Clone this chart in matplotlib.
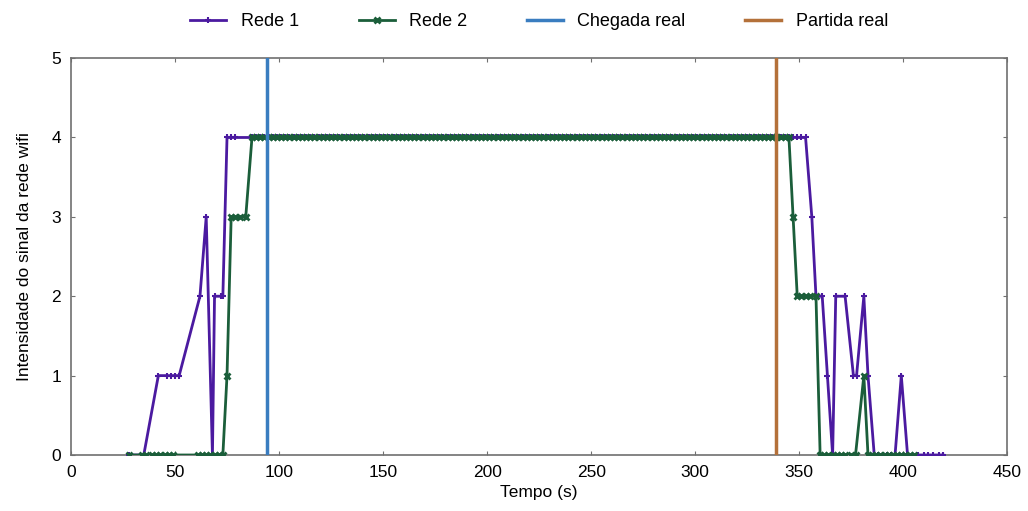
import matplotlib
matplotlib.use("Agg")
import matplotlib.pyplot as plt

plt.rcParams['font.family'] = ['Liberation Sans', 'DejaVu Sans']

# Rede 1: tempo (s) e intensidade
plateau1 = [75, 77, 79, 87, 89, 91, 93, 95, 97, 99, 101, 103, 105, 107, 109, 111, 113, 115,
            117, 119, 121, 123, 125, 127, 129, 131, 133, 135, 137, 139, 141, 143, 145, 147,
            149, 151, 153, 155, 157, 159, 161, 163, 165, 167, 169, 171, 173, 175, 177, 179,
            181, 183, 185, 187, 189, 191, 193, 195, 197, 199, 201, 203, 205, 207, 209, 211,
            213, 215, 217, 219, 221, 223, 225, 227, 229, 231, 233, 235, 237, 239, 241, 243,
            245, 247, 249, 251, 253, 255, 257, 259, 261, 263, 265, 267, 269, 271, 273, 275,
            277, 279, 281, 283, 285, 287, 289, 291, 293, 295, 297, 299, 301, 303, 305, 307,
            309, 311, 313, 315, 317, 319, 321, 323, 325, 327, 329, 331, 333, 335, 337, 339,
            341, 343, 345, 347, 349, 351, 353]
t1_start = [28, 35, 42, 46, 48, 50, 52, 62, 65, 68, 69, 72, 73]
v1_start = [0, 0, 1, 1, 1, 1, 1, 2, 3, 0, 2, 2, 2]
t1_end = [356, 358, 361, 363.5, 366, 367.5, 372, 376, 377.5, 381, 383, 386, 388, 390, 392,
          394, 396, 399, 402, 407, 410, 412, 414, 417, 419]
v1_end = [3, 2, 2, 1, 0, 2, 2, 1, 1, 2, 1, 0, 0, 0, 0, 0, 0, 1, 0, 0, 0, 0, 0, 0, 0]

# Rede 2
plateau2 = [87, 89, 91, 93, 95, 97, 99, 101, 103, 105, 107, 109, 111, 113, 115, 117, 119,
            121, 123, 125, 127, 129, 131, 133, 135, 137, 139, 141, 143, 145, 147, 149, 151,
            153, 155, 157, 159, 161, 163, 165, 167, 169, 171, 173, 175, 177, 179, 181, 183,
            185, 187, 189, 191, 193, 195, 197, 199, 201, 203, 205, 207, 209, 211, 213, 215,
            217, 219, 221, 223, 225, 227, 229, 231, 233, 235, 237, 239, 241, 243, 245, 247,
            249, 251, 253, 255, 257, 259, 261, 263, 265, 267, 269, 271, 273, 275, 277, 279,
            281, 283, 285, 287, 289, 291, 293, 295, 297, 299, 301, 303, 305, 307, 309, 311,
            313, 315, 317, 319, 321, 323, 325, 327, 329, 331, 333, 335, 337, 339, 341, 343, 345]
t2_start = [28, 34, 36, 39, 41, 43, 45, 47, 49, 61, 63, 65, 67, 69, 71, 73, 75, 77, 79, 81, 84]
v2_start = [0, 0, 0, 0, 0, 0, 0, 0, 0, 0, 0, 0, 0, 0, 0, 0, 1, 3, 3, 3, 3]
t2_end = [347, 349, 351, 353, 355, 358, 360, 362, 364, 366, 368, 370, 372, 375, 377, 381,
          383, 385, 387, 389, 391, 393, 395, 397, 399, 401, 403, 405]
v2_end = [3, 2, 2, 2, 2, 2, 0, 0, 0, 0, 0, 0, 0, 0, 0, 1, 0, 0, 0, 0, 0, 0, 0, 0, 0, 0, 0, 0]

chegada = 94
partida = 339

t1 = t1_start + plateau1 + t1_end
v1 = v1_start + [4] * len(plateau1) + v1_end
t2 = t2_start + plateau2 + t2_end
v2 = v2_start + [4] * len(plateau2) + v2_end

fig = plt.figure(figsize=(10.28, 5.11), dpi=100)
ax = fig.add_axes([0.069, 0.1096, 0.911, 0.7767])

ax.plot(t1, v1, color='#4b1aa0', lw=2, marker='+', ms=4, mew=1.5, label='Rede 1', zorder=3)
ax.plot(t2, v2, color='#1b5e3a', lw=2, marker='x', ms=4, mew=2, label='Rede 2', zorder=3)
ax.axvline(chegada, color='#3a7dc0', lw=2.5, label='Chegada real', zorder=4)
ax.axvline(partida, color='#b4713a', lw=2.5, label='Partida real', zorder=4)

ax.set_xlim(0, 450)
ax.set_ylim(0, 5)
ax.set_xticks(range(0, 451, 50))
ax.set_yticks(range(0, 6))
for s in ax.spines.values():
    s.set_color('#707070')
    s.set_linewidth(1.2)
ax.tick_params(direction='in', top=True, right=True, labelsize=12.5, length=3,
               color='#707070', pad=7)
ax.set_xlabel('Tempo (s)', fontsize=12.5, labelpad=4)
ax.set_ylabel('Intensidade do sinal da rede wifi', fontsize=12.5, labelpad=14)

ax.legend(loc='lower center', bbox_to_anchor=(0.5, 1.03), ncol=4, frameon=False,
          fontsize=13, handlelength=2.0, columnspacing=3.3)

fig.savefig('out.png', dpi=100)
